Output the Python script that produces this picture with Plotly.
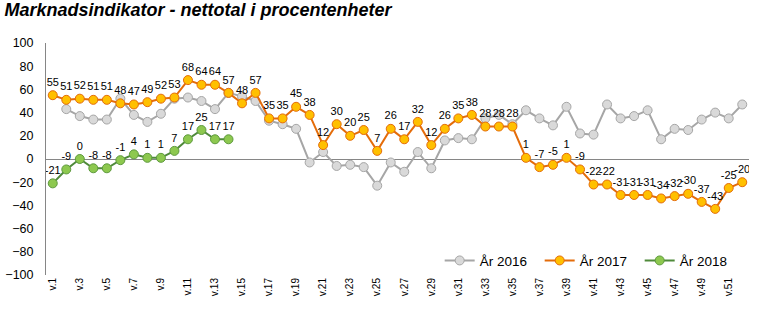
import plotly.graph_objects as go

weeks = [f"v.{i}" for i in range(1, 53)]

y2016 = [None, 43, 37, 34, 34, 52, 38, 32, 39, 52,
         53, 50, 43, 57, 54, 50, 33, 30, 26, -3,
         6, -6, -5, -7, -23, -3, -11, 6, -8, 16,
         18, 17, 35, 38, 30, 42, 35, 29, 45, 22,
         21, 47, 35, 37, 42, 17, 26, 25, 34, 40,
         35, 47]

y2017 = [55, 51, 52, 51, 51, 48, 47, 49, 52, 53,
         68, 64, 64, 57, 48, 57, 35, 35, 45, 38,
         12, 30, 20, 25, 7, 26, 17, 32, 12, 26,
         35, 38, 28, 28, 28, 1, -7, -5, 1, -9,
         -22, -22, -31, -31, -31, -34, -32, -30, -37, -43,
         -25, -20]

y2018 = [-21, -9, 0, -8, -8, -1, 4, 1, 1, 7, 17, 25, 17, 17]

yticks = list(range(-100, 101, 20))

FONT = "Liberation Sans, Arial, sans-serif"

fig = go.Figure()
fig.add_trace(go.Scatter(
    x=weeks, y=y2016, name="År 2016", mode="lines+markers",
    line=dict(color="#A6A6A6", width=2),
    marker=dict(size=9, color="#D9D9D9", line=dict(color="#A6A6A6", width=1)),
))
fig.add_trace(go.Scatter(
    x=weeks, y=y2017, name="År 2017", mode="lines+markers+text",
    text=[str(v) for v in y2017], textposition="top center",
    textfont=dict(size=11, color="#000000", family=FONT),
    line=dict(color="#E46C0A", width=2),
    marker=dict(size=9, color="#FFC000", line=dict(color="#E46C0A", width=1)),
))
fig.add_trace(go.Scatter(
    x=weeks[:len(y2018)], y=y2018, name="År 2018", mode="lines+markers+text",
    text=[str(v) for v in y2018], textposition="top center",
    textfont=dict(size=11, color="#000000", family=FONT),
    line=dict(color="#4F8A3A", width=2),
    marker=dict(size=9, color="#8DC84F", line=dict(color="#5E9A3E", width=1)),
))

fig.update_layout(
    width=757, height=325,
    margin=dict(l=46, r=8, t=43, b=50, autoexpand=False),
    paper_bgcolor="white", plot_bgcolor="white",
    font=dict(family=FONT, size=12, color="#000000"),
    title=dict(text="<b><i>Marknadsindikator - nettotal i procentenheter</i></b>",
               x=0.006, xanchor="left", y=0.99, yanchor="top",
               font=dict(size=18, family=FONT, color="#000000")),
    showlegend=True,
    legend=dict(orientation="h", x=0.56, y=-0.005, xanchor="left", yanchor="bottom",
                bgcolor="rgba(0,0,0,0)", font=dict(size=13.5, family=FONT),
                itemwidth=30, entrywidth=55, entrywidthmode="pixels"),
    xaxis=dict(type="category", categoryorder="array", categoryarray=weeks,
               tickvals=weeks[::2], ticktext=weeks[::2], tickangle=-90,
               tickfont=dict(size=10, family=FONT, color="#000000"),
               showgrid=False, showline=False, zeroline=False, ticks="",
               range=[-0.5, 51.5], automargin=False),
    yaxis=dict(range=[-100, 100], tickvals=yticks, showgrid=False,
               showline=True, linecolor="#868686", linewidth=1,
               zeroline=True, zerolinecolor="#868686", zerolinewidth=1,
               ticks="", ticklabelstandoff=9, automargin=False,
               tickfont=dict(size=12.5, family=FONT, color="#000000")),
)

fig.write_html("out.html")
